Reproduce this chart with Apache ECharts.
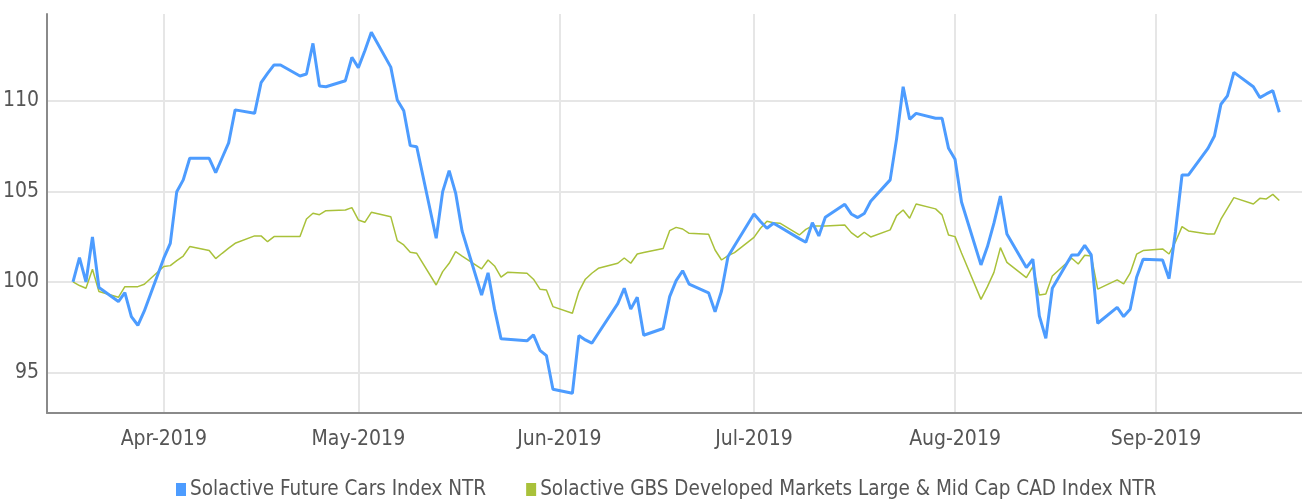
<!DOCTYPE html>
<html>
<head>
<meta charset="utf-8">
<script src="https://cdn.jsdelivr.net/npm/echarts@6/dist/echarts.min.js"></script>
<style>
  html, body { margin: 0; padding: 0; background: #fff; }
  #chart { width: 1302px; height: 500px; }
</style>
</head>
<body>
<div id="chart"></div>
<script>
const dates = [
  '2019-03-18','2019-03-19','2019-03-20','2019-03-21','2019-03-22','2019-03-25','2019-03-26','2019-03-27','2019-03-28','2019-03-29',
  '2019-04-01','2019-04-02','2019-04-03','2019-04-04','2019-04-05','2019-04-08','2019-04-09','2019-04-10','2019-04-11','2019-04-12',
  '2019-04-15','2019-04-16','2019-04-17','2019-04-18','2019-04-19','2019-04-22','2019-04-23','2019-04-24','2019-04-25','2019-04-26',
  '2019-04-29','2019-04-30',
  '2019-05-01','2019-05-02','2019-05-03','2019-05-06','2019-05-07','2019-05-08','2019-05-09','2019-05-10','2019-05-13','2019-05-14',
  '2019-05-15','2019-05-16','2019-05-17','2019-05-20','2019-05-21','2019-05-22','2019-05-23','2019-05-24','2019-05-27','2019-05-28',
  '2019-05-29','2019-05-30','2019-05-31',
  '2019-06-03','2019-06-04','2019-06-05','2019-06-06','2019-06-07','2019-06-10','2019-06-11','2019-06-12','2019-06-13','2019-06-14',
  '2019-06-17','2019-06-18','2019-06-19','2019-06-20','2019-06-21','2019-06-24','2019-06-25','2019-06-26','2019-06-27','2019-06-28',
  '2019-07-01','2019-07-02','2019-07-03','2019-07-04','2019-07-05','2019-07-08','2019-07-09','2019-07-10','2019-07-11','2019-07-12',
  '2019-07-15','2019-07-16','2019-07-17','2019-07-18','2019-07-19','2019-07-22','2019-07-23','2019-07-24','2019-07-25','2019-07-26',
  '2019-07-29','2019-07-30','2019-07-31',
  '2019-08-01','2019-08-02','2019-08-05','2019-08-06','2019-08-07','2019-08-08','2019-08-09','2019-08-12','2019-08-13','2019-08-14',
  '2019-08-15','2019-08-16','2019-08-19','2019-08-20','2019-08-21','2019-08-22','2019-08-23','2019-08-26','2019-08-27','2019-08-28',
  '2019-08-29','2019-08-30',
  '2019-09-02','2019-09-03','2019-09-04','2019-09-05','2019-09-06','2019-09-09','2019-09-10','2019-09-11','2019-09-12','2019-09-13',
  '2019-09-16','2019-09-17','2019-09-18','2019-09-19','2019-09-20'
];

const futureCars = [
  100.0, 101.34, 100.0, 102.48, 99.69, 98.92, 99.41, 98.09, 97.61, 98.40,
  101.31, 102.13, 104.98, 105.63, 106.82, 106.82, 106.03, 106.85, 107.67, 109.49,
  109.30, 110.99, 111.5, 111.97, 111.97, 111.36, 111.47, 113.16, 110.81, 110.77,
  111.10, 112.39,
  111.82, 112.75, 113.77, 111.85, 110.04, 109.44, 107.52, 107.46, 102.41, 104.98,
  106.14, 104.9, 102.8, 99.28, 100.5, 98.5, 96.86, 96.84, 96.75, 97.08,
  96.23, 95.93, 94.08,
  93.86, 97.04, 96.8, 96.62, 97.17, 98.8, 99.65, 98.5, 99.15, 97.06,
  97.43, 99.19, 100.07, 100.62, 99.88, 99.4, 98.35, 99.5, 101.4, 102.0,
  103.75, 103.33, 102.96, 103.24, 103.03, 102.39, 102.19, 103.27, 102.54, 103.57,
  104.28, 103.75, 103.55, 103.77, 104.45, 105.63, 107.92, 110.77, 108.97, 109.30,
  109.03, 109.03, 107.37,
  106.77, 104.41, 100.94, 101.95, 103.24, 104.74, 102.65, 100.79, 101.25, 98.13,
  96.89, 99.65, 101.49, 101.49, 102.02, 101.49, 97.72, 98.6, 98.09, 98.49,
  100.26, 101.25,
  101.21, 100.18, 102.8, 105.9, 105.9, 107.37, 108.05, 109.8, 110.26, 111.56,
  110.77, 110.17, 110.37, 110.55, 109.36
];

const gbsCad = [
  100.0, 99.80, 99.65, 100.70, 99.47, 99.15, 99.74, 99.74, 99.74, 99.87,
  100.85, 100.90, 101.18, 101.43, 101.95, 101.73, 101.29, 101.58, 101.86, 102.13,
  102.54, 102.54, 102.22, 102.5, 102.5, 102.5, 103.47, 103.79, 103.71, 103.93,
  103.97, 104.10,
  103.42, 103.29, 103.84, 103.60, 102.28, 102.04, 101.64, 101.58, 99.83, 100.57,
  101.03, 101.67, 101.43, 100.72, 101.21, 100.88, 100.26, 100.53, 100.48, 100.15,
  99.60, 99.56, 98.64,
  98.27, 99.47, 100.15, 100.48, 100.75, 101.03, 101.32, 101.03, 101.54, 101.62,
  101.84, 102.83, 103.01, 102.92, 102.68, 102.63, 101.76, 101.21, 101.45, 101.62,
  102.46, 102.96, 103.35, 103.27, 103.24, 102.59, 102.90, 103.09, 103.09, 103.09,
  103.14, 102.72, 102.46, 102.74, 102.48, 102.87, 103.66, 103.97, 103.51, 104.30,
  104.03, 103.70, 102.59,
  102.50, 101.6, 99.04, 99.74, 100.53, 101.89, 101.08, 100.24, 100.85, 99.28,
  99.34, 100.33, 101.31, 100.99, 101.47, 101.43, 99.60, 100.11, 99.89, 100.48,
  101.53, 101.73,
  101.82, 101.54, 102.22, 103.05, 102.81, 102.65, 102.65, 103.46, 104.06, 104.65,
  104.30, 104.61, 104.58, 104.83, 104.49
];

const seriesNames = [
  'Solactive Future Cars Index NTR',
  'Solactive GBS Developed Markets Large & Mid Cap CAD Index NTR'
];
const monthTicks = ['2019-04-01','2019-05-01','2019-06-01','2019-07-01','2019-08-01','2019-09-01'];
const monthNames = ['Jan','Feb','Mar','Apr','May','Jun','Jul','Aug','Sep','Oct','Nov','Dec'];
const yTicks = [95, 100, 105, 110];

const ts = s => { const p = s.split('-').map(Number); return Date.UTC(p[0], p[1]-1, p[2]); };
const DAY = 86400000;

const FONT = '"Liberation Sans Narrow", "DejaVu Sans Condensed", "Liberation Sans", sans-serif';

const chart = echarts.init(document.getElementById('chart'), null, { renderer: 'canvas' });
chart.setOption({
  animation: false,
  color: ['#4d9cff', '#a9c13a'],
  grid: { left: 46, right: 0, top: 14, bottom: 87, containLabel: false },
  legend: {
    top: 474,
    left: 171,
    icon: 'rect',
    itemWidth: 10,
    itemHeight: 13,
    itemGap: 40,
    textStyle: { fontFamily: FONT, fontSize: 20.5, color: '#555', padding: [0, 0, 0, -1] },
    data: seriesNames
  },
  xAxis: {
    type: 'value',
    min: ts('2019-03-14'),
    max: ts('2019-09-23') + DAY / 2,
    axisLine: { show: true, lineStyle: { color: '#8a8a8a', width: 2 } },
    axisTick: { show: false, customValues: monthTicks.map(ts) },
    axisLabel: {
      customValues: monthTicks.map(ts),
      margin: 16,
      fontFamily: FONT, fontSize: 21, color: '#555',
      formatter: v => { const d = new Date(v); return monthNames[d.getUTCMonth()] + '-' + d.getUTCFullYear(); }
    },
    splitLine: { show: true, lineStyle: { color: '#e6e6e6', width: 2 } }
  },
  yAxis: {
    type: 'value',
    min: 92.77,
    max: 114.78,
    axisLine: { show: true, lineStyle: { color: '#8a8a8a', width: 2 } },
    axisTick: { show: false, customValues: yTicks },
    axisLabel: {
      customValues: yTicks,
      margin: 8,
      fontFamily: FONT, fontSize: 21, color: '#555'
    },
    splitLine: { show: true, lineStyle: { color: '#e6e6e6', width: 2 } }
  },
  series: [
    {
      name: seriesNames[0], type: 'line', showSymbol: false, symbol: 'none',
      lineStyle: { width: 3, color: '#4d9cff' },
      data: dates.map((d, i) => [ts(d), futureCars[i]]), z: 3
    },
    {
      name: seriesNames[1], type: 'line', showSymbol: false, symbol: 'none',
      lineStyle: { width: 1.5, color: '#a9c13a' },
      data: dates.map((d, i) => [ts(d), gbsCad[i]]), z: 2
    }
  ]
});
</script>
</body>
</html>
